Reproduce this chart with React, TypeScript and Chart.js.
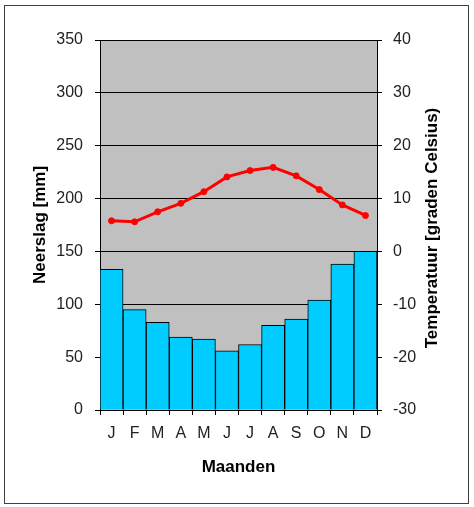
import React, { useEffect, useRef } from "react";
import { Chart, registerables } from "chart.js";

Chart.register(...registerables);

const months = ["J", "F", "M", "A", "M", "J", "J", "A", "S", "O", "N", "D"];
const precipitation = [133, 95, 83, 69, 67, 56, 62, 80, 86, 104, 138, 150];
const temperature = [5.8, 5.6, 7.5, 9.1, 11.3, 14.1, 15.3, 15.9, 14.3, 11.7, 8.8, 6.8];

const leftTitle = "Neerslag [mm]";
const rightTitle = "Temperatuur [graden Celsius)";
const bottomTitle = "Maanden";

const FONT = "'Liberation Sans', Arial, sans-serif";

const decorPlugin = {
  id: "decor",
  beforeDraw(chart: any) {
    const { ctx, chartArea } = chart;
    ctx.save();
    ctx.fillStyle = "#ffffff";
    ctx.fillRect(0, 0, chart.width, chart.height);
    ctx.strokeStyle = "#404040";
    ctx.lineWidth = 1;
    ctx.strokeRect(4.5, 5.5, 464, 498);
    ctx.fillStyle = "#C0C0C0";
    ctx.fillRect(chartArea.left, chartArea.top, chartArea.right - chartArea.left, chartArea.bottom - chartArea.top);
    ctx.restore();
  },
  afterDraw(chart: any) {
    const { ctx } = chart;
    ctx.save();
    ctx.translate(432, 228);
    ctx.rotate(-Math.PI / 2);
    ctx.font = `bold 17px ${FONT}`;
    ctx.fillStyle = "#000000";
    ctx.textAlign = "center";
    ctx.textBaseline = "middle";
    ctx.fillText(rightTitle, 0, 0);
    ctx.restore();
  },
};

export default function App() {
  const ref = useRef<HTMLCanvasElement | null>(null);

  useEffect(() => {
    if (!ref.current) return;
    const chart = new Chart(ref.current, {
      type: "bar",
      data: {
        labels: months,
        datasets: [
          {
            type: "line",
            label: "Temperatuur",
            data: temperature,
            yAxisID: "y1",
            borderColor: "#FF0000",
            backgroundColor: "#FF0000",
            borderWidth: 3,
            pointRadius: 3,
            pointBorderWidth: 1,
            pointBackgroundColor: "#FF0000",
            pointBorderColor: "#FF0000",
            tension: 0,
            order: 0,
          } as any,
          {
            type: "bar",
            label: "Neerslag",
            data: precipitation,
            yAxisID: "y",
            backgroundColor: "#00CCFF",
            borderColor: "#000000",
            borderWidth: 1,
            barPercentage: 1,
            categoryPercentage: 1,
            order: 1,
          } as any,
        ],
      },
      options: {
        animation: false,
        responsive: false,
        devicePixelRatio: 1,
        layout: { padding: { top: 40, left: 0, right: 0, bottom: 0 } },
        plugins: {
          legend: { display: false },
          tooltip: { enabled: false },
        },
        scales: {
          x: {
            position: "bottom",
            offset: true,
            grid: {
              offset: true,
              drawOnChartArea: false,
              drawTicks: true,
              tickLength: 5,
              color: "#000000",
              tickColor: "#000000",
            },
            border: { display: true, color: "#000000", width: 1 },
            ticks: {
              color: "#222222",
              font: { family: FONT, size: 16 },
              padding: 9,
              maxRotation: 0,
              autoSkip: false,
            },
            title: {
              display: true,
              text: bottomTitle,
              color: "#000000",
              font: { family: FONT, size: 17, weight: "bold" },
              padding: { top: 0, bottom: 29.8 },
            },
            afterFit(scale: any) {
              scale.height = 97;
            },
          },
          y: {
            position: "left",
            min: 0,
            max: 350,
            ticks: {
              stepSize: 50,
              color: "#222222",
              font: { family: FONT, size: 16 },
              padding: 12,
            },
            grid: {
              color: "#000000",
              lineWidth: 1,
              drawTicks: true,
              tickLength: 5,
              tickColor: "#000000",
            },
            border: { display: true, color: "#000000", width: 1 },
            title: {
              display: true,
              text: leftTitle,
              color: "#000000",
              font: { family: FONT, size: 17, weight: "bold" },
              padding: { top: 29.8, bottom: 0 },
            },
            afterFit(scale: any) {
              scale.width = 100;
            },
          },
          y1: {
            position: "right",
            min: -30,
            max: 40,
            ticks: {
              stepSize: 10,
              color: "#222222",
              font: { family: FONT, size: 16 },
              padding: 11,
            },
            grid: {
              drawOnChartArea: false,
              drawTicks: true,
              tickLength: 5,
              tickColor: "#000000",
            },
            border: { display: true, color: "#000000", width: 1 },
            afterFit(scale: any) {
              scale.width = 97;
            },
          },
        },
      },
      plugins: [decorPlugin],
    });
    return () => chart.destroy();
  }, []);

  return (
    <div style={{ position: "fixed", left: 0, top: 0, width: 474, height: 507 }}>
      <canvas ref={ref} width={474} height={507} style={{ width: 474, height: 507, display: "block" }} />
    </div>
  );
}
